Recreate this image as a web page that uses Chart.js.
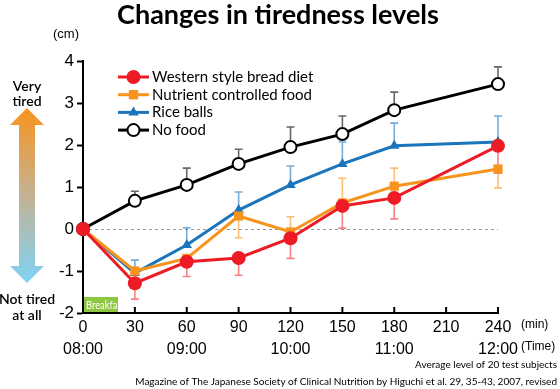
<!DOCTYPE html>
<html>
<head>
<meta charset="utf-8">
<script src="https://cdn.jsdelivr.net/npm/chart.js@4"></script>
<style>
  html, body { margin: 0; padding: 0; background: #fff; }
  #wrap { width: 560px; height: 389px; position: relative; }
</style>
</head>
<body>
<div id="wrap"><canvas id="tiredChart"></canvas></div>
<script>
// ========================================
// DATA
// ========================================

const minutes = [0, 30, 60, 90, 120, 150, 180, 240];

const seriesNames = ['Western style bread diet', 'Nutrient controlled food', 'Rice balls', 'No food'];
const westernValues  = [0, -1.29, -0.78, -0.69, -0.22, 0.55, 0.74, 1.98];
const nutrientValues = [0, -1.00, -0.70, 0.31, -0.07, 0.62, 1.02, 1.43];
const riceValues     = [0, -1.05, -0.38, 0.45, 1.05, 1.55, 1.98, 2.07];
const noFoodValues   = [0, 0.67, 1.05, 1.55, 1.95, 2.26, 2.83, 3.45];

// end value of each error bar (null = none drawn)
const westernErr  = [null, -1.67, -1.13, -1.10, -0.70, 0.02, 0.24, 1.33];
const nutrientErr = [null, null, null, -0.21, 0.29, 1.21, 1.45, 0.98];
const riceErr     = [null, -0.74, 0.03, 0.88, 1.50, 2.07, 2.52, 2.69];
const noFoodErr   = [null, 0.90, 1.45, 1.90, 2.43, 2.69, 3.26, 3.86];

const timeTicks = [0, 60, 120, 180, 240];
const timeLabels = ['08:00', '09:00', '10:00', '11:00', '12:00'];

// ========================================
// STYLE
// ========================================

const RED = '#ED1C24';
const ORANGE = '#F7941D';
const BLUE = '#1B75BC';
const BLACK = '#000000';

const NUM_FONT = '"Liberation Sans", Arial, sans-serif';
const TXT_FONT = 'Lato, "Open Sans", sans-serif';

function toPoints(values) {
    return values.map((v, i) => ({ x: minutes[i], y: v }));
}

const errorSets = [
    { values: westernValues, err: westernErr, color: 'rgba(237,28,36,0.55)' },
    { values: nutrientValues, err: nutrientErr, color: 'rgba(247,148,29,0.6)' },
    { values: riceValues, err: riceErr, color: 'rgba(27,117,188,0.6)' },
    { values: noFoodValues, err: noFoodErr, color: 'rgba(0,0,0,0.6)' }
];

// ========================================
// DECORATION PLUGIN
// ========================================

const decorPlugin = {
    id: 'decor',
    beforeDatasetsDraw(chart) {
        const { ctx, scales: { x, y }, chartArea } = chart;
        ctx.save();

        // breakfast tag (text is cut off by the box, as in the original)
        const bx = chartArea.left + 1, by = chartArea.bottom - 16;
        ctx.fillStyle = '#8DC63F';
        ctx.fillRect(bx, by, 34, 15);
        ctx.save();
        ctx.beginPath();
        ctx.rect(bx, by, 34, 15);
        ctx.clip();
        ctx.translate(bx + 2, by + 8);
        ctx.scale(0.78, 1);
        ctx.fillStyle = '#fff';
        ctx.font = '12px ' + TXT_FONT;
        ctx.textBaseline = 'middle';
        ctx.fillText('Breakfast', 0, 0);
        ctx.restore();

        // zero line
        ctx.strokeStyle = '#999';
        ctx.lineWidth = 1;
        ctx.setLineDash([3, 3]);
        ctx.beginPath();
        ctx.moveTo(chartArea.left, Math.round(y.getPixelForValue(0)) + 0.5);
        ctx.lineTo(chartArea.right, Math.round(y.getPixelForValue(0)) + 0.5);
        ctx.stroke();
        ctx.setLineDash([]);

        // error bars (drawn back to front like the datasets)
        for (let s = errorSets.length - 1; s >= 0; s--) {
            const set = errorSets[s];
            ctx.strokeStyle = set.color;
            ctx.lineWidth = 1.6;
            set.err.forEach((end, i) => {
                if (end === null) return;
                const px = x.getPixelForValue(minutes[i]);
                const y0 = y.getPixelForValue(set.values[i]);
                const y1 = y.getPixelForValue(end);
                ctx.beginPath();
                ctx.moveTo(px, y0);
                ctx.lineTo(px, y1);
                ctx.moveTo(px - 4, y1);
                ctx.lineTo(px + 4, y1);
                ctx.stroke();
            });
        }
        ctx.restore();
    },
    afterDraw(chart) {
        const { ctx, scales: { x, y }, chartArea } = chart;
        ctx.save();

        // inner ticks on the x axis
        ctx.strokeStyle = '#000';
        ctx.lineWidth = 2;
        x.ticks.forEach(t => {
            const px = x.getPixelForValue(t.value);
            ctx.beginPath();
            ctx.moveTo(px, chartArea.bottom);
            ctx.lineTo(px, chartArea.bottom - 6);
            ctx.stroke();
        });

        // title
        ctx.fillStyle = '#000';
        ctx.textAlign = 'center';
        ctx.textBaseline = 'middle';
        ctx.font = 'bold 27px ' + TXT_FONT;
        ctx.fillText('Changes in tiredness levels', 278, 15);

        // unit labels
        ctx.font = '13px ' + NUM_FONT;
        ctx.fillText('(cm)', 66, 34);
        ctx.textAlign = 'left';
        ctx.font = '12px ' + NUM_FONT;
        ctx.fillText('(min)', 521, 325);
        ctx.fillText('(Time)', 521, 347);

        // left gradient arrow
        const top = 108, bottom = 283, cx = 27;
        const grad = ctx.createLinearGradient(0, top, 0, bottom);
        grad.addColorStop(0, '#F7941D');
        grad.addColorStop(0.5, '#C4B294');
        grad.addColorStop(1, '#7FD3F7');
        ctx.fillStyle = grad;
        ctx.beginPath();
        ctx.moveTo(cx, top);
        ctx.lineTo(cx + 17, top + 17);
        ctx.lineTo(cx + 8, top + 17);
        ctx.lineTo(cx + 8, bottom - 17);
        ctx.lineTo(cx + 17, bottom - 17);
        ctx.lineTo(cx, bottom);
        ctx.lineTo(cx - 17, bottom - 17);
        ctx.lineTo(cx - 8, bottom - 17);
        ctx.lineTo(cx - 8, top + 17);
        ctx.lineTo(cx - 17, top + 17);
        ctx.closePath();
        ctx.fill();

        ctx.fillStyle = '#000';
        ctx.textAlign = 'center';
        ctx.font = '600 14px ' + TXT_FONT;
        ctx.fillText('Very', cx, 86);
        ctx.fillText('tired', cx, 101);
        ctx.fillText('Not tired', cx, 299);
        ctx.fillText('at all', cx, 315);

        // legend
        chart.data.datasets.forEach((ds, i) => {
            const ly = 77 + i * 17.7;
            const mx = 133.5;
            ctx.strokeStyle = ds.borderColor;
            ctx.lineWidth = 3;
            ctx.beginPath();
            ctx.moveTo(118, ly);
            ctx.lineTo(149, ly);
            ctx.stroke();
            const style = ds.pointStyle;
            ctx.fillStyle = ds.pointBackgroundColor;
            ctx.strokeStyle = ds.pointBorderColor;
            ctx.lineWidth = ds.pointBorderWidth;
            ctx.beginPath();
            if (style === 'circle') {
                ctx.arc(mx, ly, ds.pointRadius, 0, Math.PI * 2);
            } else if (style === 'rect') {
                const r = ds.pointRadius * 0.72;
                ctx.rect(mx - r, ly - r, r * 2, r * 2);
            } else {
                const r = ds.pointRadius;
                ctx.moveTo(mx, ly - r);
                ctx.lineTo(mx + r * 0.87, ly + r * 0.5);
                ctx.lineTo(mx - r * 0.87, ly + r * 0.5);
                ctx.closePath();
            }
            ctx.fill();
            if (ds.pointBorderWidth) ctx.stroke();

            ctx.fillStyle = '#000';
            ctx.textAlign = 'left';
            ctx.font = '15px ' + TXT_FONT;
            ctx.fillText(ds.label, 152, ly);
        });

        // footnotes
        ctx.textAlign = 'right';
        ctx.font = '10px ' + TXT_FONT;
        ctx.fillText('Average level of 20 test subjects', 557, 365);
        ctx.fillText('Magazine of The Japanese Society of Clinical Nutrition by Higuchi et al. 29, 35-43, 2007, revised', 557, 382);

        ctx.restore();
    }
};

// ========================================
// CHART
// ========================================

function lineSet(label, values, color, style, radius, fill, borderW) {
    return {
        label: label,
        data: toPoints(values),
        borderColor: color,
        borderWidth: 3,
        pointStyle: style,
        pointRadius: radius,
        pointHoverRadius: radius,
        pointBackgroundColor: fill,
        pointBorderColor: color,
        pointBorderWidth: borderW,
        tension: 0,
        clip: false
    };
}

new Chart(document.getElementById('tiredChart'), {
    type: 'line',
    data: {
        datasets: [
            lineSet(seriesNames[0], westernValues, RED, 'circle', 7, RED, 0),
            lineSet(seriesNames[1], nutrientValues, ORANGE, 'rect', 6.5, ORANGE, 0),
            lineSet(seriesNames[2], riceValues, BLUE, 'triangle', 6, BLUE, 0),
            lineSet(seriesNames[3], noFoodValues, BLACK, 'circle', 6, '#fff', 2)
        ]
    },
    options: {
        responsive: true,
        maintainAspectRatio: false,
        animation: false,
        layout: { padding: { top: 61, right: 62, left: 0, bottom: 0 } },
        plugins: {
            legend: { display: false },
            tooltip: { enabled: false },
            title: { display: false }
        },
        scales: {
            x: {
                type: 'linear',
                min: 0,
                max: 240,
                afterFit(scale) { scale.height = 76; },
                border: { display: true, color: '#000', width: 2 },
                grid: { display: false, drawTicks: false },
                ticks: {
                    stepSize: 30,
                    padding: 4,
                    color: '#000',
                    maxRotation: 0,
                    autoSkip: false,
                    font: { family: NUM_FONT, size: 16, lineHeight: 1.35 },
                    callback(value) {
                        const k = timeTicks.indexOf(value);
                        return k >= 0 ? [String(value), timeLabels[k]] : String(value);
                    }
                }
            },
            y: {
                min: -2,
                max: 4,
                afterFit(scale) { scale.width = 83; },
                border: { display: true, color: '#000', width: 2 },
                grid: {
                    display: true,
                    drawOnChartArea: false,
                    drawTicks: true,
                    tickLength: 6,
                    tickColor: '#000',
                    tickWidth: 2
                },
                ticks: {
                    stepSize: 1,
                    padding: 3,
                    color: '#000',
                    font: { family: NUM_FONT, size: 17 }
                }
            }
        }
    },
    plugins: [decorPlugin]
});
</script>
</body>
</html>
